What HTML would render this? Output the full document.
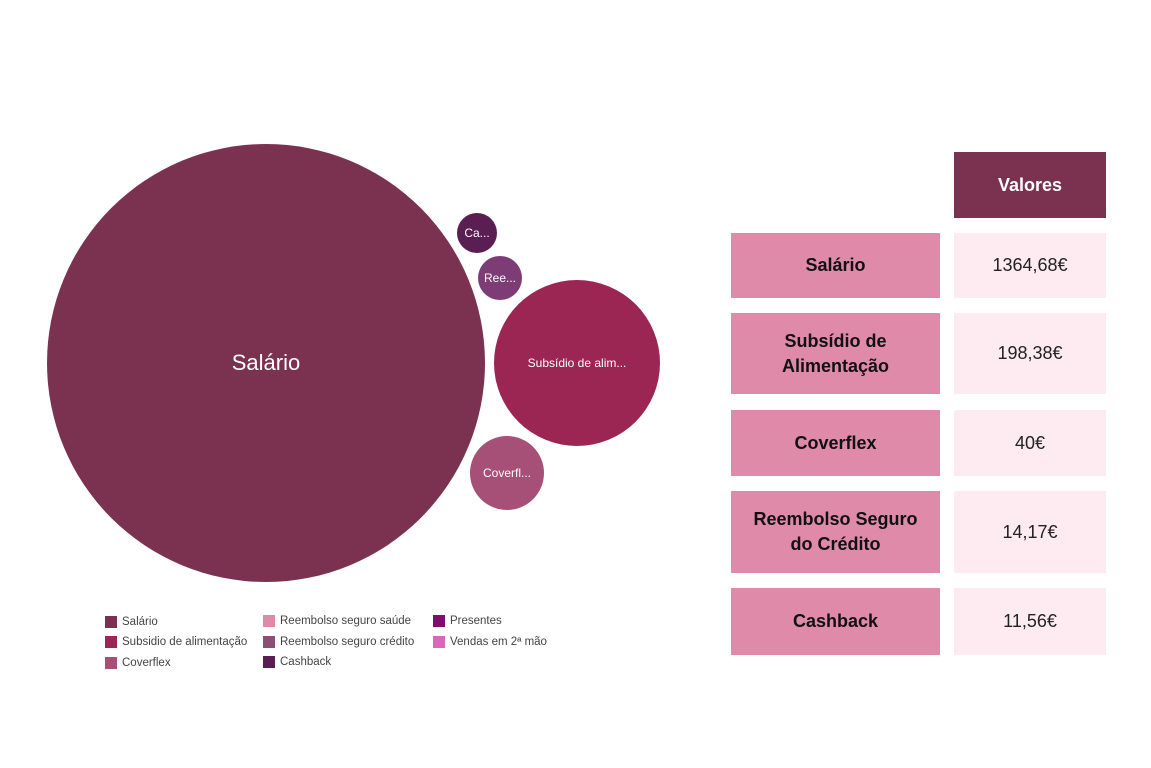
<!DOCTYPE html>
<html><head><meta charset="utf-8"><style>
body{margin:0;width:1151px;height:768px;background:#fff;position:relative;overflow:hidden;font-family:"Liberation Sans",sans-serif}
.c{position:absolute;border-radius:50%;display:flex;align-items:center;justify-content:center;color:#fff;font-size:12px}
.l{position:absolute;background:#de8aa8;display:flex;align-items:center;justify-content:center;text-align:center;font-weight:bold;font-size:18px;color:#111;line-height:25px}
.r{position:absolute;background:#fdebf1;display:flex;align-items:center;justify-content:center;font-size:18px;color:#222}
.lg{position:absolute;font-size:11.5px;color:#444;display:flex;align-items:center}
.lg i{display:inline-block;width:12px;height:12px;margin-right:5px}
</style></head><body>
<div class="c" style="left:47px;top:144px;width:438px;height:438px;background:#7b3250;font-size:22px">Salário</div>
<div class="c" style="left:494px;top:280px;width:166px;height:166px;background:#9b2653">Subsídio de alim...</div>
<div class="c" style="left:470px;top:436px;width:74px;height:74px;background:#a64f77">Coverfl...</div>
<div class="c" style="left:478px;top:256px;width:44px;height:44px;background:#7d3c76">Ree...</div>
<div class="c" style="left:457px;top:213px;width:40px;height:40px;background:#5a1e52">Ca...</div>

<div class="lg" style="left:105px;top:616px"><i style="background:#7b3250"></i>Salário</div>
<div class="lg" style="left:105px;top:636px"><i style="background:#9b2653"></i>Subsidio de alimentação</div>
<div class="lg" style="left:105px;top:657px"><i style="background:#a64f77"></i>Coverflex</div>
<div class="lg" style="left:263px;top:615px"><i style="background:#de8aa8"></i>Reembolso seguro saúde</div>
<div class="lg" style="left:263px;top:636px"><i style="background:#8a4f72"></i>Reembolso seguro crédito</div>
<div class="lg" style="left:263px;top:656px"><i style="background:#5a1e52"></i>Cashback</div>
<div class="lg" style="left:433px;top:615px"><i style="background:#7d0f6e"></i>Presentes</div>
<div class="lg" style="left:433px;top:636px"><i style="background:#d868b8"></i>Vendas em 2ª mão</div>

<div class="l" style="left:954px;top:152px;width:152px;height:66px;background:#7b3250;color:#fff">Valores</div>
<div class="l" style="left:731px;top:233px;width:209px;height:65px">Salário</div>
<div class="r" style="left:954px;top:233px;width:152px;height:65px">1364,68€</div>
<div class="l" style="left:731px;top:313px;width:209px;height:81px">Subsídio de<br>Alimentação</div>
<div class="r" style="left:954px;top:313px;width:152px;height:81px">198,38€</div>
<div class="l" style="left:731px;top:410px;width:209px;height:66px">Coverflex</div>
<div class="r" style="left:954px;top:410px;width:152px;height:66px">40€</div>
<div class="l" style="left:731px;top:491px;width:209px;height:82px">Reembolso Seguro<br>do Crédito</div>
<div class="r" style="left:954px;top:491px;width:152px;height:82px">14,17€</div>
<div class="l" style="left:731px;top:588px;width:209px;height:67px">Cashback</div>
<div class="r" style="left:954px;top:588px;width:152px;height:67px">11,56€</div>
</body></html>
